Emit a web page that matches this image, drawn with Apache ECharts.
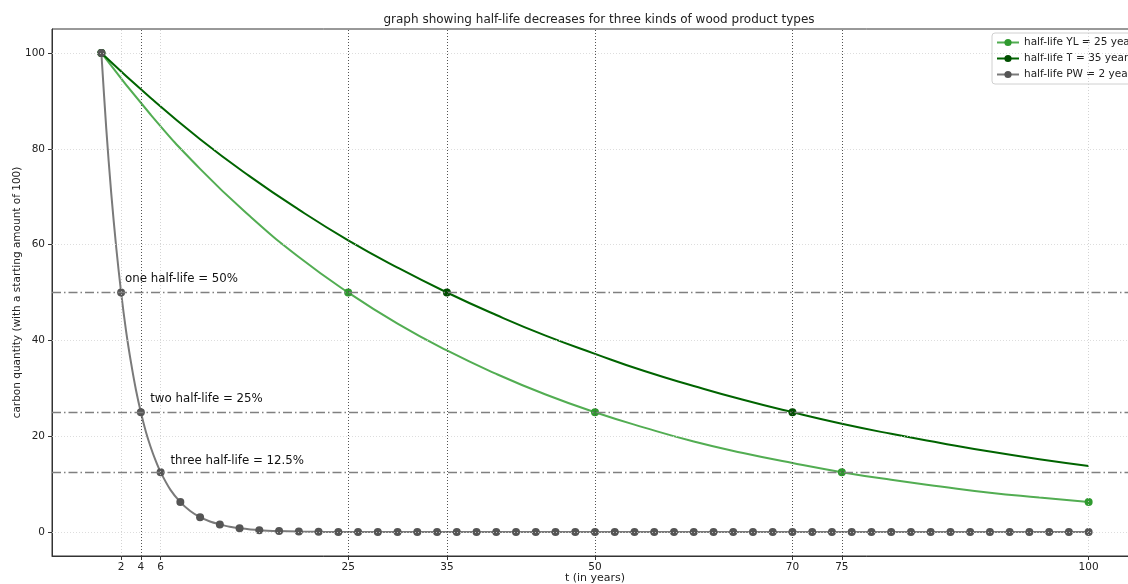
<!DOCTYPE html>
<html>
<head>
<meta charset="utf-8">
<script src="https://cdn.jsdelivr.net/npm/echarts@6/dist/echarts.min.js"></script>
<style>
html,body{margin:0;padding:0;background:#fff;overflow:hidden;}
#chart{width:1150px;height:584px;}
</style>
</head>
<body>
<div id="chart"></div>
<script>
// ---- data ----
const titleText = 'graph showing half-life decreases for three kinds of wood product types';
const xTicks = [2, 4, 6, 25, 35, 50, 70, 75, 100];
const yTicks = [0, 20, 40, 60, 80, 100];

const yearsYL = [0,5,10,15,20,25,30,35,40,45,50,55,60,65,70,75,80,85,90,95,100];
const valuesYL = [100,87.1,75.8,66.0,57.4,50,43.5,37.9,33.0,28.7,25,21.8,18.9,16.5,14.4,12.5,10.9,9.5,8.2,7.2,6.25];
const markersYL = [0,25,50,75,100];

const yearsT = [0,5,10,15,20,25,30,35,40,45,50,55,60,65,70,75,80,85,90,95,100];
const valuesT = [100,90.6,82.0,74.3,67.3,60.9,55.2,50,45.3,41.0,37.2,33.6,30.5,27.6,25,22.6,20.5,18.6,16.8,15.2,13.8];
const markersT = [0,35,70];

const yearsPW = [0,0.5,1,1.5,2,2.5,3,3.5,4,4.5,5,5.5,6,7,8,9,10,11,12,13,14,16,18,20,22,24,26,28,30,32,34,36,38,40,42,44,46,48,50,52,54,56,58,60,62,64,66,68,70,72,74,76,78,80,82,84,86,88,90,92,94,96,98,100];
const valuesPW = [100,84.1,70.7,59.5,50,42.0,35.4,29.7,25,21.0,17.7,14.9,12.5,8.8,6.25,4.4,3.1,2.2,1.6,1.1,0.8,0.4,0.2,0.1,0.05,0,0,0,0,0,0,0,0,0,0,0,0,0,0,0,0,0,0,0,0,0,0,0,0,0,0,0,0,0,0,0,0,0,0,0,0,0,0,0];
const markersPW = [0,2,4,6,8,10,12,14,16,18,20,22,24,26,28,30,32,34,36,38,40,42,44,46,48,50,52,54,56,58,60,62,64,66,68,70,72,74,76,78,80,82,84,86,88,90,92,94,96,98,100];

const halfLifeLevels = [50, 25, 12.5];
const darkVLines = [4, 25, 35, 50, 70, 75];
const annotations = [
  {x: 2.4, y: 52.8, text: 'one half-life = 50%'},
  {x: 4.95, y: 27.8, text: 'two half-life = 25%'},
  {x: 7.0, y: 14.8, text: 'three half-life = 12.5%'}
];
const seriesNames = ['half-life YL = 25 years', 'half-life T = 35 years', 'half-life PW = 2 years'];

// ---- chart ----
const FONT = 'DejaVu Sans';
function pairs(xs, ys){ return xs.map((x,i)=>[x, ys[i]]); }
function markerSize(list, size){ return function(v){ return list.indexOf(v[0]) >= 0 ? size : 0; }; }

const chart = echarts.init(document.getElementById('chart'));

const gridLines = [];
xTicks.forEach(v => gridLines.push({xAxis: v, lineStyle:{color:'#c8c8c8', type:[1,2], width:0.8}}));
yTicks.forEach(v => gridLines.push({yAxis: v, lineStyle:{color:'#d4d4d4', type:[1,2], width:0.8}}));
darkVLines.forEach(v => gridLines.push({xAxis: v, lineStyle:{color:'#444', type:[1,2], width:0.9}}));
halfLifeLevels.forEach(v => gridLines.push({yAxis: v, lineStyle:{color:'#808080', type:[9,3,1.5,3], width:1.4}}));

const option = {
  backgroundColor: '#fff',
  animation: false,
  title: {
    text: titleText, left: 594, textAlign: 'center', top: 9,
    textStyle: {fontFamily: FONT, fontSize: 12, fontWeight: 'normal', color: '#222'}
  },
  legend: {
    data: seriesNames,
    orient: 'vertical', left: 992, top: 33,
    itemWidth: 22, itemHeight: 9, itemGap: 5,
    padding: [4, 6, 4, 4],
    backgroundColor: '#fff', borderColor: '#d0d0d0', borderWidth: 1, borderRadius: 3,
    textStyle: {fontFamily: FONT, fontSize: 10.5, color: '#222'}
  },
  grid: {left: 52, top: 29, bottom: 28, right: 12, show: true, borderColor: '#333', borderWidth: 1,
         containLabel: false, outerBoundsMode: 'none'},
  xAxis: {
    type: 'value', min: -5, max: 105,
    name: 't (in years)', nameLocation: 'middle', nameGap: 17, nameMoveOverlap: false,
    nameTextStyle: {fontFamily: FONT, fontSize: 11, color: '#222', verticalAlign: 'top'},
    axisLine: {show: true, onZero: false, lineStyle: {color: '#333'}},
    axisTick: {show: true, length: 4, lineStyle: {color: '#333'}, customValues: xTicks},
    axisLabel: {fontFamily: FONT, fontSize: 10.5, color: '#222', margin: 6, customValues: xTicks},
    splitLine: {show: false}
  },
  yAxis: {
    type: 'value', min: -5, max: 105,
    name: 'carbon quantity (with a starting amount of 100)', nameLocation: 'middle', nameGap: 29, nameMoveOverlap: false,
    nameTextStyle: {fontFamily: FONT, fontSize: 10.5, color: '#222', verticalAlign: 'bottom'},
    axisLine: {show: true, onZero: false, lineStyle: {color: '#333'}},
    axisTick: {show: true, length: 4, lineStyle: {color: '#333'}, customValues: yTicks},
    axisLabel: {fontFamily: FONT, fontSize: 10.5, color: '#222', margin: 7, customValues: yTicks},
    splitLine: {show: false}
  },
  series: [
    {
      name: 'guides', type: 'line', data: [], silent: true,
      markLine: {silent: true, symbol: 'none', label: {show: false}, animation: false, data: gridLines}
    },
    {
      name: seriesNames[0], type: 'line', data: pairs(yearsYL, valuesYL), smooth: true,
      symbol: 'circle', symbolSize: markerSize(markersYL, 8), showAllSymbol: true,
      itemStyle: {color: '#2f9a2f'}, lineStyle: {color: '#52ad52', width: 2}, z: 3
    },
    {
      name: seriesNames[1], type: 'line', data: pairs(yearsT, valuesT), smooth: true,
      symbol: 'circle', symbolSize: markerSize(markersT, 8), showAllSymbol: true,
      itemStyle: {color: '#004f00'}, lineStyle: {color: '#006400', width: 2}, z: 3
    },
    {
      name: seriesNames[2], type: 'line', data: pairs(yearsPW, valuesPW), smooth: 0.3,
      symbol: 'circle', symbolSize: markerSize(markersPW, 8), showAllSymbol: true,
      itemStyle: {color: '#555555'}, lineStyle: {color: '#7a7a7a', width: 2}, z: 4
    },
    {
      name: 'notes', type: 'scatter', symbolSize: 0, silent: true, z: 6,
      data: annotations.map(a => ({value: [a.x, a.y], name: a.text})),
      itemStyle: {opacity: 1},
      label: {show: true, position: 'right', distance: 0, formatter: '{b}',
              fontFamily: FONT, fontSize: 11.8, color: '#111', opacity: 1}
    }
  ]
};
chart.setOption(option);
</script>
</body>
</html>
